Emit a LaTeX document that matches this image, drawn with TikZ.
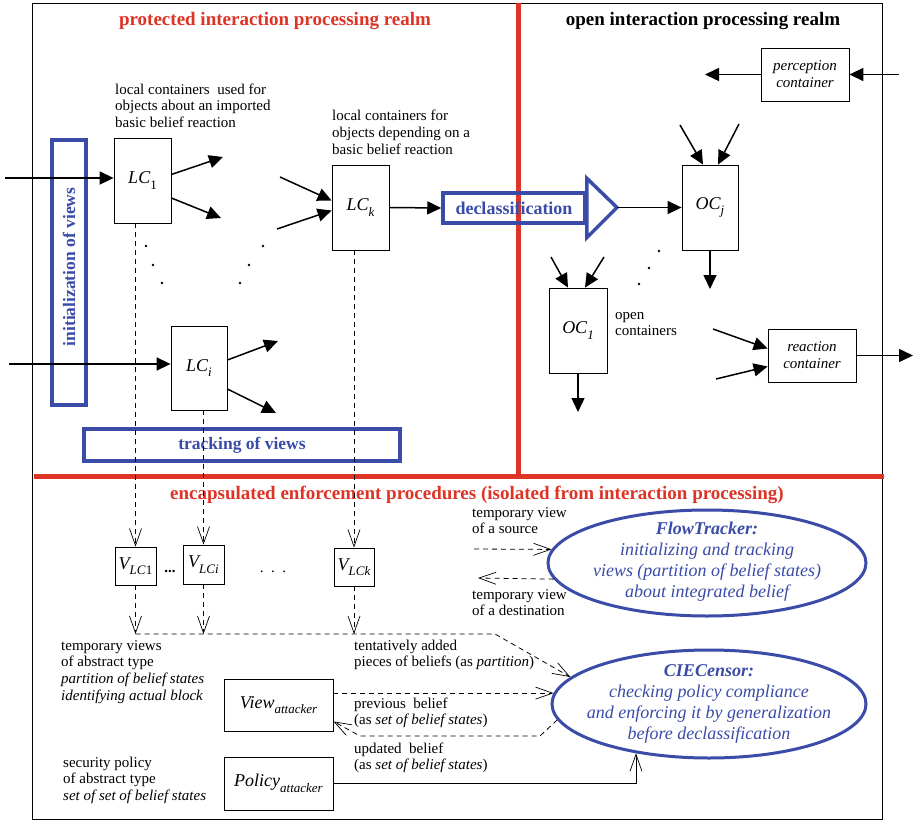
\documentclass[tikz,border=0pt]{standalone}
\usepackage{fontspec}
\setmainfont{Liberation Serif}
\usetikzlibrary{arrows.meta,shapes.geometric,calc}
\definecolor{myred}{RGB}{221,52,38}
\definecolor{myblue}{RGB}{58,76,168}
\newcommand{\mysb}[1]{\raisebox{-0.3em}{\fontsize{13}{13}\selectfont\itshape #1}}
\begin{document}
\begin{tikzpicture}[x=1pt,y=-1pt,
  box/.style={draw,line width=0.8pt,inner sep=0pt,font=\fontsize{18}{20}\selectfont\itshape},
  ibox/.style={draw,line width=0.8pt,inner sep=0pt,align=center,font=\fontsize{15}{17}\selectfont\itshape},
  bbox/.style={draw=myblue,line width=3.5pt,inner sep=0pt,text=myblue,font=\fontsize{17.5}{20}\selectfont\bfseries},
  lbl/.style={anchor=north west,inner sep=0pt,align=left,font=\fontsize{15}{16.7}\selectfont},
  ttl/.style={anchor=base,inner sep=0pt,font=\fontsize{19}{22}\selectfont\bfseries},
  ell/.style={draw=myblue,line width=3pt,ellipse,inner sep=0pt},
  etxt/.style={align=center,inner sep=0pt,text=myblue,font=\fontsize{18}{21}\selectfont\itshape},
  arr/.style={line width=1.5pt,-{Triangle[length=14pt,width=13pt]}},
  oarr/.style={line width=0.8pt,dash pattern=on 5pt off 4pt,-{Straight Barb[length=17pt,width=12pt,line width=0.7pt]}},
  parr/.style={line width=0.9pt,-{Straight Barb[length=17pt,width=12pt,line width=0.7pt]}},
  dot/.style={circle,fill,inner sep=0pt,minimum size=2.8pt}]
\useasboundingbox (0,0) rectangle (914,822);
\fill[white] (0,0) rectangle (914,822);
% frame and realm separators
\draw[line width=0.9pt] (32,3) rectangle (882,819);
\draw[myred,line width=5pt] (518,3) -- (518,476);
\draw[myred,line width=5pt] (34,476) -- (884,476);
% titles
\node[ttl,text=myred] (t1) at (275,25) {protected interaction processing realm};
\node[ttl] (t2) at (703,25) {open interaction processing realm};
\node[ttl,text=myred] (t3) at (477,499) {encapsulated enforcement procedures (isolated from interaction processing)};
% descriptive labels
\node[lbl] (d1) at (115,82.3) {\strut local containers\ \ used for\\objects about an imported\\basic belief reaction};
\node[lbl] (d2) at (332,109) {\strut local containers for\\objects depending on a\\basic belief reaction};
\node[lbl] (d3) at (615,307.3) {\strut open\\containers};
% blue boxes
\node[bbox,minimum width=34pt,minimum height=265pt] (init) at (69,272.5) {};
\node[rotate=90,inner sep=0pt,text=myblue,font=\fontsize{17.5}{20}\selectfont\bfseries] (initt) at (69,267) {initialization of views};
\node[bbox,minimum width=316pt,minimum height=32pt] (trk) at (242,445) {tracking of views};
\node[bbox,minimum width=142pt,minimum height=30pt,font=\fontsize{18}{20}\selectfont\bfseries] (dc) at (514,208) {declassification};
\coordinate (tip) at (617,207.5);
\draw[myblue,line width=3.5pt,line join=miter] ($(dc.north east)+(0,-13)$) -- (tip) -- ($(dc.south east)+(0,13)$) -- cycle;
% local containers
\node[box,minimum width=57pt,minimum height=85pt] (LC1) at (142.5,180.5) {LC\mysb{\textup{1}}};
\node[box,minimum width=57pt,minimum height=85pt] (LCk) at (360.5,207.5) {LC\mysb{k}};
\node[box,minimum width=56pt,minimum height=84pt] (LCi) at (199,368) {LC\mysb{i}};
% open containers
\node[box,minimum width=56pt,minimum height=85pt] (OCj) at (710,207.5) {OC\mysb{j}};
\node[box,minimum width=58pt,minimum height=85pt] (OC1) at (578,330.5) {OC\mysb{1}};
\node[ibox,minimum width=88pt,minimum height=53pt] (perc) at (805,74.5) {perception\\container};
\node[ibox,minimum width=88pt,minimum height=53pt] (react) at (812,355.5) {reaction\\container};
% arrows protected realm
\coordinate (in1) at (5,178);
\draw[arr] (in1) -- (in1 -| LC1.west);
\coordinate (o1a) at (223,157);
\coordinate (o1b) at (221,218);
\draw[arr] ($(LC1.east)+(0,-6)$) -- (o1a);
\draw[arr] ($(LC1.east)+(0,17.5)$) -- (o1b);
\coordinate (ika) at (280,177);
\coordinate (ikb) at (277,229);
\draw[arr] (ika) -- ($(LCk.west)+(0,-7)$);
\draw[arr] (ikb) -- ($(LCk.west)+(0,3)$);
\draw[arr] (LCk.east) -- (dc.west);
\coordinate (ini) at (9,364);
\draw[arr] (ini) -- (ini -| LCi.west);
\coordinate (oia) at (278,341);
\coordinate (oib) at (276,413);
\draw[arr] ($(LCi.east)+(0,-8)$) -- (oia);
\draw[arr] ($(LCi.east)+(0,21)$) -- (oib);
% dots
\foreach \p [count=\n] in {(146,246),(153,265),(162,283),(263,246),(249,265),(240,283),(659,251),(649,268),(639,284)}
  \node[dot] (dt\n) at \p {};
% arrows open realm
\draw[arr] (tip) -- (OCj.west);
\coordinate (ija) at (680,125);
\coordinate (ijb) at (739,124);
\draw[arr] (ija) -- ($(OCj.north)+(-7,0)$);
\draw[arr] (ijb) -- ($(OCj.north)+(8,0)$);
\coordinate (ojd) at (710,289);
\draw[arr] (OCj.south) -- (ojd);
\coordinate (pl) at (705,74.5);
\coordinate (pr) at (899,74.5);
\draw[arr] (perc.west) -- (pl);
\draw[arr] (pr) -- (perc.east);
\coordinate (i1a) at (551,257);
\coordinate (i1b) at (604,257);
\draw[arr] (i1a) -- ($(OC1.north)+(-10,0)$);
\draw[arr] (i1b) -- ($(OC1.north)+(7,0)$);
\coordinate (o1d) at (578,412);
\draw[arr] (OC1.south) -- (o1d);
\coordinate (ra) at (713,329);
\coordinate (rb) at (716,379);
\draw[arr] (ra) -- ($(react.west)+(0,-7)$);
\draw[arr] (rb) -- ($(react.west)+(0,11)$);
\coordinate (ro) at (913,355.5);
\draw[arr] (react.east) -- (ro);
% view containers
\node[box,minimum width=41pt,minimum height=38pt] (VLC1) at (135.5,566) {V\mysb{LC\textup{1}}};
\node[box,minimum width=41pt,minimum height=39pt] (VLCi) at (203.5,564.5) {V\mysb{LCi}};
\node[box,minimum width=40pt,minimum height=38pt] (VLCk) at (354,567) {V\mysb{LCk}};
\node[anchor=base,inner sep=0pt,font=\fontsize{15}{17}\selectfont\bfseries] (el1) at (170,572) {...};
\node[anchor=base,inner sep=0pt,font=\fontsize{15}{17}\selectfont] (el2) at (273,572) {.\ \ .\ \ .};
\draw[oarr] (LC1.south -| VLC1.north) -- (VLC1.north);
\draw[oarr] (LCi.south -| VLCi.north) -- (VLCi.north);
\draw[oarr] (LCk.south -| VLCk.north) -- (VLCk.north);
% enforcement components
\node[ell,minimum width=318pt,minimum height=106pt] (FT) at (707,563) {};
\node[etxt] (FTt) at (707,562) {\textbf{FlowTracker:}\\initializing and tracking\\views (partition of belief states)\\about integrated belief};
\node[ell,minimum width=314pt,minimum height=108pt] (CIE) at (709,704) {};
\node[etxt] (CIEt) at (709,704) {\textbf{CIECensor:}\\checking policy compliance\\and enforcing it by generalization\\before declassification};
\node[box,minimum width=109pt,minimum height=52pt] (View) at (278.5,705) {View\mysb{attacker}};
\node[box,minimum width=109pt,minimum height=53pt] (Policy) at (278.5,783.5) {Policy\mysb{attacker}};
% labels lower part
\node[lbl] (d4) at (61,638.3) {\strut temporary views\\of abstract type\\\textit{partition of belief states}\\\textit{identifying actual block}};
\node[lbl] (d5) at (354,638.3) {\strut tentatively added\\pieces of beliefs (as \textit{partition})};
\node[lbl] (d6) at (354,696.3) {\strut previous\ \ belief\\(as \textit{set of belief states})};
\node[lbl] (d7) at (354,741.3) {\strut updated\ \ belief\\(as \textit{set of belief states})};
\node[lbl] (d8) at (63,755.3) {\strut security policy\\of abstract type\\\textit{set of set of belief states}};
\node[lbl] (d9) at (472,505.3) {\strut temporary view\\of a source};
\node[lbl] (d10) at (472,587.3) {\strut temporary view\\of a destination};
% dashed flows
\coordinate (jn) at (495,634);
\draw[oarr] (VLC1.south) -- (VLC1.south |- jn);
\draw[oarr] (VLCi.south) -- (VLCi.south |- jn);
\draw[oarr] (VLCk.south) -- (VLCk.south |- jn);
\draw[oarr] (VLC1.south |- jn) -- (jn) -- (CIE.169);
\coordinate (src) at (474,549);
\coordinate (dst) at (478,578);
\draw[oarr] (src) -- (FT.175);
\draw[oarr] (FT.186) -- (dst);
\draw[oarr] (View.east |- CIE.176) -- (CIE.176);
\coordinate (u1) at (540,736);
\coordinate (u2) at (360,736);
\draw[oarr] (CIE.186) -- (u1) -- (u2) -- ($(View.south east)+(0,-10)$);
\draw[parr] (Policy.east) -| (CIE.214);
\end{tikzpicture}
\end{document}
